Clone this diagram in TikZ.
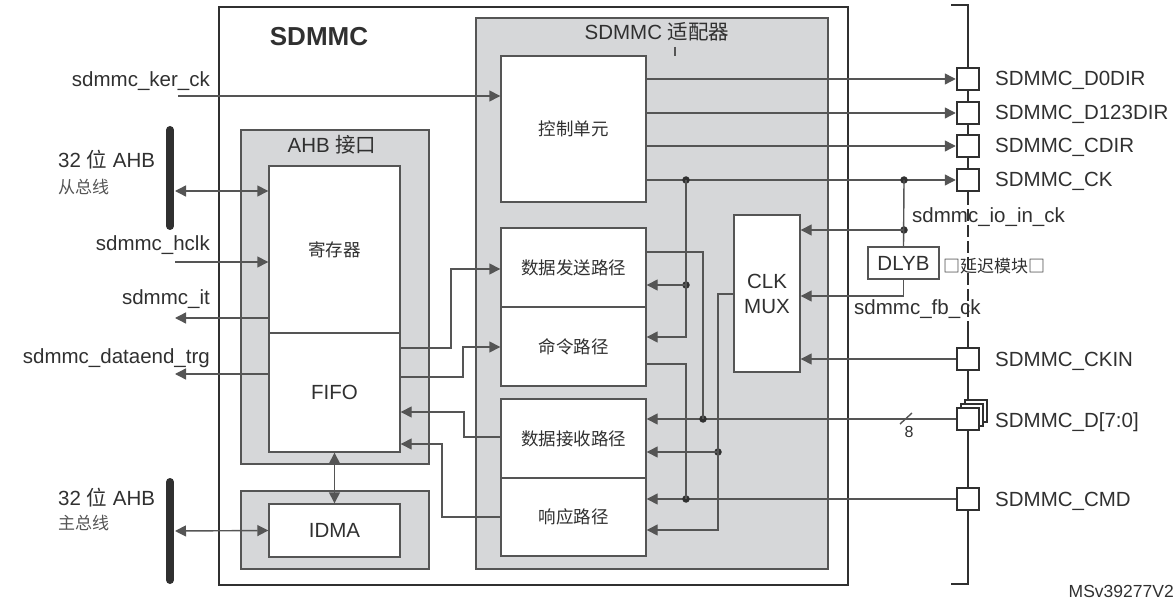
\documentclass[tikz,border=0pt]{standalone}
\usepackage{fontspec}
\setmainfont{Liberation Sans}
\newfontfamily\cjk{Noto Sans CJK SC}
\usetikzlibrary{arrows.meta}
\definecolor{linegray}{HTML}{555555}
\definecolor{boxgray}{HTML}{D6D7D9}
\definecolor{txt}{HTML}{303030}
\begin{document}
\begin{tikzpicture}[x=1pt,y=-1pt,
  >={Triangle[length=11pt,width=11pt]},
  wire/.style={draw=linegray,line width=1.4pt},
  graybox/.style={draw=linegray,fill=boxgray,line width=1.5pt,inner sep=0pt},
  whitebox/.style={draw=linegray,fill=white,line width=1.4pt,inner sep=0pt,text=txt,
    font=\cjk\fontsize{17.5}{20}\selectfont},
  sig/.style={text=txt,inner sep=0pt,font=\fontsize{20.5}{25}\selectfont},
  cn/.style={text=linegray,inner sep=0pt,font=\cjk\fontsize{17}{20}\selectfont},
  pad/.style={draw=txt,fill=white,line width=2.5pt,minimum size=22pt,inner sep=0pt},
  dot/.style={circle,fill=txt,inner sep=0pt,minimum size=7.5pt},
  bus/.style={draw=txt,line width=8pt,line cap=round}]
\useasboundingbox (0,0) rectangle (1174,601);

% SDMMC block
\node[draw=txt,line width=2pt,minimum width=629pt,minimum height=578pt,inner sep=0pt] (sdmmc) at (533.5,296) {};
\node[text=txt,font=\bfseries\fontsize{26}{30}\selectfont,anchor=base] (sdmmct) at (319,46) {SDMMC};

% adapter
\node[graybox,minimum width=352pt,minimum height=551pt] (adapter) at (652,293.5) {};
\node[sig,anchor=base] (adaptert) at (657,40) {SDMMC {\cjk 适配器}};
\draw[wire] (675,47) -- (675,56);
\node[whitebox,minimum width=145pt,minimum height=146pt] (ctrl) at (573.5,129) {控制单元};
\node[whitebox,minimum width=145pt,minimum height=79pt] (tx) at (573.5,267.5) {数据发送路径};
\node[whitebox,minimum width=145pt,minimum height=79pt] (cmdp) at (573.5,346.5) {命令路径};
\node[whitebox,minimum width=145pt,minimum height=79pt] (rx) at (573.5,438.5) {数据接收路径};
\node[whitebox,minimum width=145pt,minimum height=78pt] (resp) at (573.5,517) {响应路径};
\node[whitebox,font=\fontsize{20.5}{25}\selectfont,align=center,minimum width=66pt,minimum height=157pt] (mux) at (767,293.5) {CLK\\MUX};

% AHB interface and IDMA
\node[graybox,minimum width=188pt,minimum height=334pt] (ahb) at (335,297) {};
\node[sig,anchor=base] (ahbt) at (332,153) {AHB {\cjk 接口}};
\node[whitebox,minimum width=131pt,minimum height=167pt] (reg) at (334.5,249.5) {寄存器};
\node[whitebox,font=\fontsize{20.5}{25}\selectfont,minimum width=131pt,minimum height=119pt] (fifo) at (334.5,392.5) {FIFO};
\node[graybox,minimum width=188pt,minimum height=78pt] (idmab) at (335,530) {};
\node[whitebox,font=\fontsize{20.5}{25}\selectfont,minimum width=131pt,minimum height=53pt] (idma) at (334.5,530.5) {IDMA};

% AHB buses
\draw[bus] (170,130) -- (170,226);
\draw[bus] (170,482) -- (170,580);
\node[sig,anchor=base west] (slvl) at (58,168) {32 {\cjk 位} AHB};
\node[cn,anchor=west] (slvs) at (58,187) {从总线};
\node[sig,anchor=base west] (mstl) at (58,505) {32 {\cjk 位} AHB};
\node[cn,anchor=west] (msts) at (58,523) {主总线};
\coordinate (slv) at (175,191);
\coordinate (mst) at (175,531);
\draw[wire,<->] (slv) -- (reg.west |- slv);
\draw[wire,<->] (mst) -- (idma.west);
\draw[wire,<->] (fifo.south) -- (idma.north);

% left signals
\coordinate (kerck) at (178,96);
\coordinate (hclk) at (175,262);
\coordinate (itc) at (175,318);
\coordinate (dend) at (175,374);
\node[sig,anchor=base east] (kerckl) at (210,87) {sdmmc\_ker\_ck};
\node[sig,anchor=base east] (hclkl) at (210,251) {sdmmc\_hclk};
\node[sig,anchor=base east] (itl) at (210,305) {sdmmc\_it};
\node[sig,anchor=base east] (dendl) at (210,363) {sdmmc\_dataend\_trg};
\draw[wire,->] (kerck) -- (ctrl.west |- kerck);
\draw[wire,->] (hclk) -- (reg.west |- hclk);
\draw[wire,->] (reg.west |- itc) -- (itc);
\draw[wire,->] (fifo.west |- dend) -- (dend);

% FIFO <-> paths
\draw[wire,->] (fifo.east |- 0,348) -| (451,269) -- (tx.west |- 0,269);
\draw[wire,->] (fifo.east |- 0,377) -| (463,347) -- (cmdp.west |- 0,347);
\draw[wire,->] (rx.west |- 0,437) -| (464,412) -- (fifo.east |- 0,412);
\draw[wire,->] (resp.west |- 0,517) -| (442,444) -- (fifo.east |- 0,444);

% pins
\draw[txt,line width=2.5pt] (951,5) -- (968,5) -- (968,193);
\draw[txt,line width=2.5pt,dash pattern=on 12pt off 4pt] (968,193) -- (968,322);
\draw[txt,line width=2.5pt] (968,322) -- (968,584) -- (951,584);
\foreach \p/\y/\t in {d0dir/79/D0DIR,d123dir/113/D123DIR,cdir/146/CDIR,ck/180/CK,ckin/359/CKIN,cmdpad/499/CMD}
{
  \node[pad] (\p) at (968,\y) {};
  \node[sig,anchor=base west] (\p l) at (995,{\y+7}) {SDMMC\_\t};
}
\node[pad] (dpad3) at (976,411) {};
\node[pad] (dpad2) at (972,415) {};
\node[pad] (dpad) at (968,419) {};
\node[sig,anchor=base west] (dpadl) at (995,427) {SDMMC\_D[7:0]};

% control outputs
\foreach \p in {d0dir,d123dir,cdir,ck}
\draw[wire,->] (ctrl.east |- \p) -- (\p.west);

% clock feedback
\node[draw=linegray,line width=1.4pt,fill=white,minimum width=71pt,minimum height=32pt,sig] (dlyb) at (903.5,263) {DLYB};
\node[cn,text=txt,anchor=west] (dlybt) at (943,266) {□延迟模块□};
\node[sig,anchor=base west] (iockl) at (912,223) {sdmmc\_io\_in\_ck};
\node[sig,anchor=base west] (fbckl) at (854,315) {sdmmc\_fb\_ck};
\node[dot] (dlyj) at (904,180) {};
\node[dot] (ioj) at (904,230) {};
\draw[wire] (dlyj.center) -- (dlyb.north);
\draw[wire,->] (ioj.center) -- (mux.east |- ioj);
\draw[wire,->] (dlyb.south) |- (mux.east |- 0,296);
\draw[wire,->] (ckin.west) -- (mux.east |- ckin);

% CK to tx / cmd
\node[dot] (ckj) at (686,180) {};
\node[dot] (txj) at (686,285) {};
\draw[wire,->] (ckj.center) |- (cmdp.east |- 0,337);
\draw[wire,->] (txj.center) -- (tx.east |- txj);

% data lines
\draw[wire,->] (dpad.west) -- (rx.east |- dpad);
\node[dot] (dj) at (703,419) {};
\draw[wire] (tx.east |- 0,252) -| (dj.center);
\draw[wire] (900,424) -- (912,413);
\node[text=txt,font=\fontsize{16}{18}\selectfont] (dwidth) at (909,432) {8};

% command lines
\draw[wire,->] (cmdpad.west) -- (resp.east |- cmdpad);
\node[dot] (cj) at (686,499) {};
\draw[wire] (cmdp.east |- 0,364) -| (cj.center);

% mux clock to receive / response
\node[dot] (rj) at (718,452) {};
\draw[wire,->] (mux.west |- 0,294) -| (718,530) -- (resp.east |- 0,530);
\draw[wire,->] (rj.center) -- (rx.east |- rj);

\node[text=txt,inner sep=0pt,font=\fontsize{17.5}{20}\selectfont,anchor=base east] (refid) at (1174,597) {MSv39277V2};
\end{tikzpicture}
\end{document}
